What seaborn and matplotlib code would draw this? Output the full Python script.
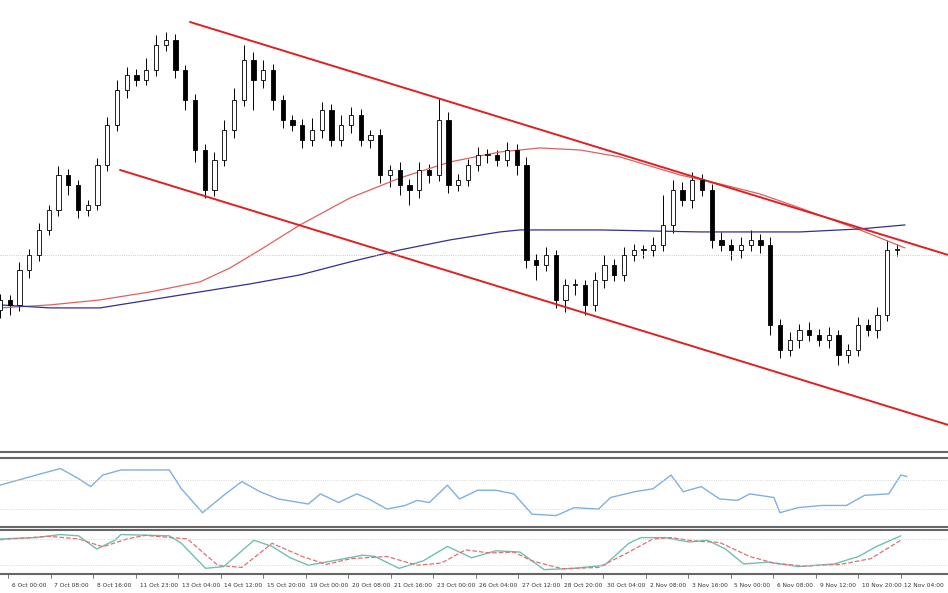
import matplotlib
matplotlib.use('Agg')
import matplotlib.pyplot as plt
import numpy as np
import pandas as pd
import seaborn as sns

sns.set_theme(style='white')
plt.rcParams['font.family'] = ['DejaVu Sans']

# price data, in chart units (higher = higher price)
first_open = 150
closes = [160, 155, 190, 205, 230, 250, 285, 275, 250, 255, 295, 335, 370, 385, 380, 390,
          415, 420, 390, 360, 310, 270, 300, 330, 360, 400, 380, 390, 360, 340, 335, 320,
          330, 350, 320, 335, 345, 320, 325, 285, 290, 275, 270, 290, 285, 340, 275, 280,
          295, 305, 305, 300, 310, 295, 200, 195, 205, 160, 175, 175, 155, 180, 195, 185,
          205, 210, 210, 215, 235, 270, 260, 280, 270, 220, 215, 210, 215, 220, 215, 135,
          110, 120, 130, 125, 120, 125, 105, 110, 135, 130, 145, 210, 210]
wick_up = [6, 5, 8, 6, 7, 5, 9, 6, 5, 5, 7, 8, 10, 8, 6, 12, 10, 8, 6, 5, 6, 6, 8, 10, 12,
           15, 8, 10, 6, 5, 5, 6, 12, 8, 6, 10, 8, 6, 5, 6, 5, 8, 6, 8, 6, 22, 8, 6, 6,
           8, 6, 5, 8, 6, 8, 6, 8, 5, 6, 6, 5, 8, 10, 6, 8, 6, 5, 8, 30, 10, 8, 8, 6, 6,
           8, 6, 8, 10, 6, 8, 6, 8, 6, 8, 6, 8, 5, 6, 8, 6, 8, 10, 6]
wick_dn = [8, 10, 6, 8, 6, 5, 6, 10, 8, 6, 5, 6, 6, 8, 6, 5, 6, 6, 8, 10, 12, 8, 6, 6, 8,
           6, 30, 8, 10, 8, 6, 8, 6, 8, 6, 6, 8, 6, 8, 8, 12, 10, 15, 8, 8, 6, 8, 6, 6,
           6, 8, 6, 6, 10, 8, 15, 6, 8, 12, 10, 10, 6, 8, 6, 6, 6, 8, 6, 6, 8, 6, 8, 6,
           8, 6, 10, 8, 6, 8, 10, 8, 6, 8, 6, 6, 8, 10, 8, 6, 6, 8, 6, 6]

ma_fast_x = [0, 50, 100, 150, 200, 230, 260, 300, 350, 400, 450, 500, 540, 580, 620, 680,
             720, 760, 800, 860, 905]
ma_fast_y = [152, 155, 160, 168, 178, 192, 210, 235, 262, 282, 298, 308, 312, 310, 303,
             285, 276, 266, 252, 230, 212]
ma_slow_x = [0, 50, 100, 150, 200, 250, 300, 350, 400, 450, 500, 520, 600, 700, 800, 860, 905]
ma_slow_y = [155, 152, 152, 160, 168, 176, 185, 198, 210, 220, 228, 230, 230, 228, 228, 231, 235]

upper_ch_x, upper_ch_y = [190, 948], [438, 205]
lower_ch_x, lower_ch_y = [120, 948], [290, 35]
last_price = 205

rsi_zx = [0, 30, 60, 100, 130, 150, 170, 200, 250, 280, 300, 335, 370, 400, 430, 460, 510,
          530, 560, 590, 610, 640, 670, 690, 710, 740, 760, 790, 820, 850, 880, 920, 950,
          990, 1010, 1050, 1080, 1110, 1130, 1160, 1190, 1220, 1240, 1280, 1290, 1320,
          1360, 1400, 1430, 1470, 1490, 1500]
rsi_val = [63, 70, 77, 86, 72, 61, 77, 84, 84, 84, 58, 25, 49, 68, 54, 44, 37, 51, 39, 51,
           44, 30, 35, 42, 39, 63, 44, 56, 56, 51, 23, 21, 32, 30, 46, 54, 58, 77, 54, 61,
           44, 42, 51, 46, 25, 32, 35, 35, 49, 51, 77, 75]

stoch_zx = [0, 60, 100, 130, 160, 190, 200, 280, 300, 340, 370, 420, 450, 480, 510, 550,
            600, 620, 660, 700, 740, 780, 820, 860, 900, 950, 1000, 1040, 1060, 1100, 1140,
            1170, 1200, 1230, 1270, 1320, 1380, 1420, 1450, 1490]
stoch_k = [80, 83, 90, 87, 57, 77, 90, 87, 70, 13, 17, 77, 63, 37, 20, 30, 43, 40, 13, 30,
           63, 37, 53, 50, 10, 13, 20, 70, 83, 83, 73, 77, 57, 23, 27, 17, 23, 40, 63, 87]
stoch_dzx = [0, 80, 130, 170, 210, 240, 310, 360, 400, 450, 500, 540, 580, 640, 690, 730,
             770, 810, 850, 880, 930, 990, 1040, 1080, 1110, 1150, 1190, 1240, 1280, 1330,
             1390, 1440, 1490]
stoch_d = [78, 86, 80, 62, 80, 88, 80, 20, 15, 70, 40, 22, 35, 40, 20, 25, 55, 48, 50, 30,
           12, 15, 50, 80, 83, 75, 72, 40, 25, 18, 22, 35, 77]

tick_labels = ['6 Oct 00:00', '7 Oct 08:00', '8 Oct 16:00', '11 Oct 23:00', '13 Oct 04:00',
               '14 Oct 12:00', '15 Oct 20:00', '19 Oct 00:00', '20 Oct 08:00', '21 Oct 16:00',
               '23 Oct 00:00', '26 Oct 04:00', '27 Oct 12:00', '28 Oct 20:00', '30 Oct 04:00',
               '2 Nov 08:00', '3 Nov 16:00', '5 Nov 00:00', '6 Nov 08:00', '9 Nov 12:00',
               '10 Nov 20:00', '12 Nov 04:00']

fig = plt.figure(figsize=(9.48, 5.93), dpi=100)
ax = fig.add_axes([0, 0.238, 1, 0.762])
ax_rsi = fig.add_axes([0, 0.111, 1, 0.116])
ax_st = fig.add_axes([0, 0.032, 1, 0.074])

# candles
n = len(closes)
xs = np.arange(n) * 9.75
opens = [first_open] + closes[:-1]
for x, o, c, wu, wd in zip(xs, opens, closes, wick_up, wick_dn):
    top, bot = max(o, c), min(o, c)
    ax.vlines(x, bot - wd, top + wu, color='black', lw=0.7, zorder=2)
    up = c >= o
    ax.bar(x, max(top - bot, 1), bottom=bot, width=4.2, color='white' if up else 'black',
           edgecolor='black', lw=0.6, zorder=3)

sns.lineplot(x=ma_fast_x, y=ma_fast_y, ax=ax, color='#e06060', lw=0.9)
sns.lineplot(x=ma_slow_x, y=ma_slow_y, ax=ax, color='#303090', lw=0.9)
ax.plot(upper_ch_x, upper_ch_y, color='#e02020', lw=1.4)
ax.plot(lower_ch_x, lower_ch_y, color='#e02020', lw=1.4)
ax.axhline(last_price, color='#bbbbbb', lw=0.6, ls=':')
ax.set_xlim(0, 948)
ax.set_ylim(8, 460)

# RSI
rsi_x = np.array(rsi_zx) * 948 / 1568
sns.lineplot(x=rsi_x, y=rsi_val, ax=ax_rsi, color='#80b0e0', lw=1)
for lv in (70, 30):
    ax_rsi.axhline(lv, color='#cccccc', lw=0.6, ls=':')
ax_rsi.set_xlim(0, 948)
ax_rsi.set_ylim(5, 100)

# Stochastic
sns.lineplot(x=np.array(stoch_zx) * 948 / 1568, y=stoch_k, ax=ax_st, color='#70c0b0', lw=1)
sns.lineplot(x=np.array(stoch_dzx) * 948 / 1568, y=stoch_d, ax=ax_st, color='#e07070',
             lw=0.9, ls='--')
for lv in (80, 20):
    ax_st.axhline(lv, color='#cccccc', lw=0.6, ls=':')
ax_st.set_xlim(0, 948)
ax_st.set_ylim(0, 100)

for a in (ax, ax_rsi, ax_st):
    a.set_xticks([])
    a.set_yticks([])
    for s in a.spines.values():
        s.set_color('#666666')
        s.set_linewidth(1.5)
    a.spines['left'].set_visible(False)
    a.spines['right'].set_visible(False)
ax.spines['top'].set_visible(False)

tick_pos = 12 + np.arange(len(tick_labels)) * 42.5
for p, t in zip(tick_pos, tick_labels):
    fig.text(p / 948, 0.012, t, fontsize=4.2, ha='left', va='center', color='#333333')
    fig.add_artist(plt.Line2D([p / 948 - 0.004] * 2, [0.025, 0.032], color='#666666', lw=0.6))

fig.savefig('out.png', dpi=100)
